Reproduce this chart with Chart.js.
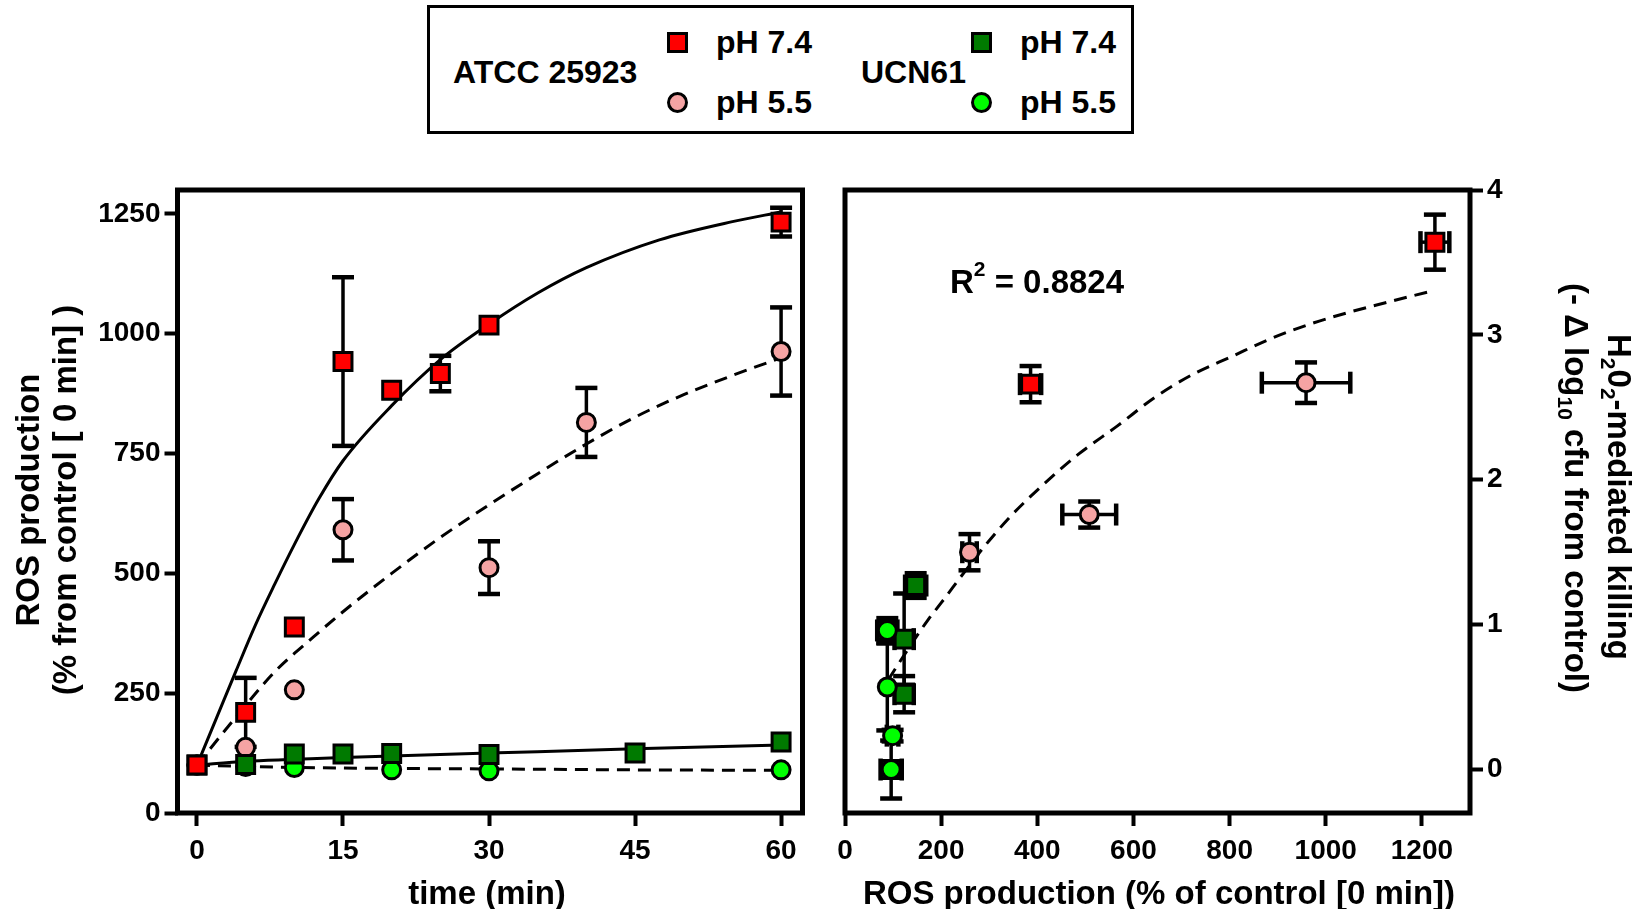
<!DOCTYPE html>
<html>
<head>
<meta charset="utf-8">
<script src="https://cdn.jsdelivr.net/npm/chart.js@4.4.1/dist/chart.umd.min.js"></script>
<style>
html,body{margin:0;padding:0;background:#fff;}
body{width:1652px;height:909px;overflow:hidden;position:relative;font-family:"Liberation Sans",Arial,Helvetica,sans-serif;font-weight:bold;}
#c1{position:absolute;left:0;top:0;}
#c2{position:absolute;left:826px;top:0;}
#legend{position:absolute;left:427px;top:5px;width:707px;height:129px;box-sizing:border-box;border:3px solid #000;}
.lt{position:absolute;font-size:32px;line-height:32px;white-space:nowrap;color:#000;}
.mk{position:absolute;width:21px;height:21px;box-sizing:border-box;border:3px solid #000;}
.ci{border-radius:50%;}
</style>
</head>
<body>
<div id="legend"></div>
<span class="lt" style="left:453px;top:56px">ATCC 25923</span>
<div class="mk" style="left:667px;top:32px;background:#ff0000"></div>
<span class="lt" style="left:716px;top:26px">pH 7.4</span>
<div class="mk ci" style="left:667px;top:92px;background:#f5a3a3"></div>
<span class="lt" style="left:716px;top:86px">pH 5.5</span>
<span class="lt" style="left:861px;top:56px">UCN61</span>
<div class="mk" style="left:971px;top:32px;background:#007a00"></div>
<span class="lt" style="left:1020px;top:26px">pH 7.4</span>
<div class="mk ci" style="left:971px;top:92px;background:#00ff00"></div>
<span class="lt" style="left:1020px;top:86px">pH 5.5</span>

<canvas id="c1" width="826" height="909"></canvas>
<canvas id="c2" width="826" height="909"></canvas>

<script>
// ---- left panel: ROS production vs time ----
const timeTicks = [0, 15, 30, 45, 60];
const rosTicks = [0, 250, 500, 750, 1000, 1250];

const atccNeutralTime = [0, 5, 10, 15, 20, 25, 30, 60];
const atccNeutralRos  = [100, 210, 388, 942, 882, 917, 1018, 1233];
const atccNeutralErr  = [0, 72, 0, 176, 0, 37, 0, 30];

const atccAcidTime = [0, 5, 10, 15, 30, 40, 60];
const atccAcidRos  = [100, 137, 257, 591, 512, 815, 963];
const atccAcidErr  = [0, 0, 0, 64, 55, 72, 92];

const ucnNeutralTime = [0, 5, 10, 15, 20, 30, 45, 60];
const ucnNeutralRos  = [100, 101, 123, 123, 124, 122, 125, 148];

const ucnAcidTime = [0, 5, 10, 20, 30, 60];
const ucnAcidRos  = [100, 97, 95, 90, 88, 90];

// fitted curves, points
const fitAtccNeutralT = [0, 2, 4, 6, 8, 10, 12.5, 15, 20, 25, 30, 35, 40, 47.5, 55, 60];
const fitAtccNeutralY = [100, 198, 296, 392, 478, 560, 655, 735, 850, 946, 1020, 1085, 1138, 1196, 1234, 1254];
const fitAtccAcidT = [0, 4, 8, 12, 15, 20, 25, 30, 35, 40, 45, 50, 55, 60];
const fitAtccAcidY = [100, 200, 295, 368, 420, 500, 575, 643, 708, 770, 826, 873, 913, 950];
const fitUcnNeutralT = [0, 5, 10, 15, 20, 30, 45, 60];
const fitUcnNeutralY = [100, 108, 112, 116, 119, 125, 134, 142];
const fitUcnAcidT = [0, 5, 10, 20, 30, 45, 60];
const fitUcnAcidY = [100, 97, 95, 93, 92, 90, 89];

// ---- right panel: killing vs ROS production ----
const rosAxisTicks = [0, 200, 400, 600, 800, 1000, 1200];
const killTicks = [0, 1, 2, 3, 4];

const killAtccNeutralRos = [386, 1227];
const killAtccNeutralY   = [2.66, 3.64];
const killAtccNeutralXErr = [22, 30];
const killAtccNeutralYErr = [0.125, 0.19];

const killAtccAcidRos = [259, 508, 959];
const killAtccAcidY   = [1.50, 1.76, 2.67];
const killAtccAcidXErr = [15, 56, 92];
const killAtccAcidYErr = [0.125, 0.09, 0.14];

const killUcnNeutralRos = [96, 88, 123, 123, 147];
const killUcnNeutralY   = [0, 0.96, 0.52, 0.90, 1.27];
const killUcnNeutralXErr = [0, 0, 20, 20, 22];
const killUcnNeutralYErr = [0, 0, 0.125, 0.315, 0.085];

const killUcnAcidRos = [96, 99, 88, 88];
const killUcnAcidY   = [0, 0.234, 0.57, 0.96];
const killUcnAcidXErr = [22, 12, 0, 21];
const killUcnAcidYErr = [0.2, 0.04, 0.3, 0.085];

const fitKillRos = [90, 131, 172, 200, 250, 290, 345, 407, 487, 566, 645, 725, 804, 883, 963, 1042, 1122, 1217];
const fitKillY   = [0.62, 0.83, 1.03, 1.15, 1.37, 1.54, 1.75, 1.95, 2.18, 2.37, 2.57, 2.73, 2.85, 2.97, 3.07, 3.15, 3.22, 3.30];

const RED = '#ff0000', PINK = '#f5a3a3', DKGREEN = '#007a00', LTGREEN = '#00ff00';
const FONT = '"Liberation Sans", Arial, Helvetica, sans-serif';
const C2 = 826;   // left edge of the second canvas

function pts(xs, ys) {
  return xs.map((x, i) => ({x: x, y: ys[i]}));
}

function markers(data, style, fill, xErr, yErr) {
  return {
    data: data, showLine: false,
    pointStyle: style, pointRadius: style === 'rect' ? 12.7 : 9,
    pointHoverRadius: style === 'rect' ? 12.7 : 9,
    pointBackgroundColor: fill, pointBorderColor: '#000', pointBorderWidth: 3,
    xErr: xErr, yErr: yErr
  };
}

function curve(data, dashed) {
  return {
    data: data, showLine: true, pointRadius: 0, pointHoverRadius: 0,
    borderColor: '#000', borderWidth: 3, borderDash: dashed ? [13, 8] : [],
    cubicInterpolationMode: 'monotone', fill: false
  };
}

function axis(min, max, values, fitFn, pad, extra) {
  return Object.assign({
    type: 'linear', min: min, max: max,
    afterBuildTicks: s => { s.ticks = values.map(v => ({value: v})); },
    afterFit: fitFn,
    grid: {display: true, drawOnChartArea: false, drawTicks: true, tickLength: 13, tickWidth: 4, tickColor: '#000'},
    border: {display: false},
    ticks: {color: '#000', font: {family: FONT, size: 28, weight: 'bold'}, padding: pad,
            maxRotation: 0, autoSkip: false, callback: v => String(v)}
  }, extra || {});
}

// error bars go under the markers
const errorBars = {
  id: 'errorBars',
  beforeDatasetsDraw(chart) {
    const ctx = chart.ctx, xs = chart.scales.x, ys = chart.scales.y;
    const seg = (x1, y1, x2, y2, w) => {
      ctx.lineWidth = w;
      ctx.beginPath(); ctx.moveTo(x1, y1); ctx.lineTo(x2, y2); ctx.stroke();
    };
    ctx.save();
    ctx.strokeStyle = '#000';
    chart.data.datasets.forEach(ds => {
      ds.data.forEach((p, i) => {
        const px = xs.getPixelForValue(p.x), py = ys.getPixelForValue(p.y);
        const ey = ds.yErr ? ds.yErr[i] : 0;
        const ex = ds.xErr ? ds.xErr[i] : 0;
        if (ey) {
          const y1 = ys.getPixelForValue(p.y + ey), y2 = ys.getPixelForValue(p.y - ey);
          seg(px, y1, px, y2, 3.5);
          seg(px - 11, y1, px + 11, y1, 4.5);
          seg(px - 11, y2, px + 11, y2, 4.5);
        }
        if (ex) {
          const x1 = xs.getPixelForValue(p.x - ex), x2 = xs.getPixelForValue(p.x + ex);
          seg(x1, py, x2, py, 3.5);
          seg(x1, py - 11, x1, py + 11, 4.5);
          seg(x2, py - 11, x2, py + 11, 4.5);
        }
      });
    });
    ctx.restore();
  }
};

const frame = {
  id: 'frame',
  afterDraw(chart) {
    const a = chart.chartArea, ctx = chart.ctx;
    ctx.save();
    ctx.strokeStyle = '#000';
    ctx.lineWidth = 5;
    ctx.lineJoin = 'miter';
    ctx.strokeRect(a.left, a.top, a.right - a.left, a.bottom - a.top);
    ctx.restore();
  }
};

// text with sub/superscripts; x,y is the middle of the capitals
function drawRich(ctx, item) {
  const size = item.size;
  ctx.save();
  ctx.translate(item.x, item.y);
  ctx.rotate(item.angle || 0);
  ctx.fillStyle = '#000';
  ctx.textBaseline = 'alphabetic';
  ctx.textAlign = 'left';
  const parts = item.parts.map(p => {
    const o = typeof p === 'string' ? {t: p} : {t: p.sub || p.sup, sub: !!p.sub, sup: !!p.sup};
    o.s = (o.sub || o.sup) ? Math.round(size * 0.63) : size;
    ctx.font = 'bold ' + o.s + 'px ' + FONT;
    o.w = ctx.measureText(o.t).width;
    o.dy = o.sub ? size * 0.22 : (o.sup ? -size * 0.5 : 0);
    return o;
  });
  const total = parts.reduce((a, p) => a + p.w, 0);
  let x = item.align === 'left' ? 0 : -total / 2;
  const base = size * 0.36;
  parts.forEach(p => {
    ctx.font = 'bold ' + p.s + 'px ' + FONT;
    ctx.fillText(p.t, x, base + p.dy);
    x += p.w;
  });
  ctx.restore();
}

const richText = {
  id: 'richText',
  afterDraw(chart, args, opts) {
    (opts.items || []).forEach(it => drawRich(chart.ctx, it));
  }
};

function baseOptions(padding, xScale, yScale, items) {
  return {
    responsive: false, animation: false, devicePixelRatio: 1,
    layout: {padding: padding, autoPadding: false},
    scales: {x: xScale, y: yScale},
    plugins: {legend: {display: false}, tooltip: {enabled: false}, richText: {items: items}}
  };
}

new Chart(document.getElementById('c1'), {
  type: 'scatter',
  data: {
    datasets: [
      markers(pts(atccNeutralTime, atccNeutralRos), 'rect', RED, null, atccNeutralErr),
      markers(pts(ucnNeutralTime, ucnNeutralRos), 'rect', DKGREEN, null, null),
      markers(pts(atccAcidTime, atccAcidRos), 'circle', PINK, null, atccAcidErr),
      markers(pts(ucnAcidTime, ucnAcidRos), 'circle', LTGREEN, null, null),
      curve(pts(fitAtccNeutralT, fitAtccNeutralY), false),
      curve(pts(fitAtccAcidT, fitAtccAcidY), true),
      curve(pts(fitUcnNeutralT, fitUcnNeutralY), false),
      curve(pts(fitUcnAcidT, fitUcnAcidY), true)
    ]
  },
  options: baseOptions(
    {left: 0, right: 826 - 802.5, top: 190, bottom: 0},
    axis(-2, 62.2, timeTicks, s => { s.height = 96; }, 8),
    axis(0, 1300, rosTicks, s => { s.width = 177.5; }, 4),
    [
      {parts: ['ROS production'], x: 27, y: 500, size: 33, angle: -Math.PI / 2},
      {parts: ['(% from control [ 0 min] )'], x: 64, y: 500, size: 33, angle: -Math.PI / 2},
      {parts: ['time (min)'], x: 487, y: 892, size: 33}
    ]
  ),
  plugins: [errorBars, frame, richText]
});

new Chart(document.getElementById('c2'), {
  type: 'scatter',
  data: {
    datasets: [
      markers(pts(killUcnAcidRos, killUcnAcidY), 'circle', LTGREEN, killUcnAcidXErr, killUcnAcidYErr),
      markers(pts(killUcnNeutralRos, killUcnNeutralY), 'rect', DKGREEN, killUcnNeutralXErr, killUcnNeutralYErr),
      markers(pts(killAtccAcidRos, killAtccAcidY), 'circle', PINK, killAtccAcidXErr, killAtccAcidYErr),
      markers(pts(killAtccNeutralRos, killAtccNeutralY), 'rect', RED, killAtccNeutralXErr, killAtccNeutralYErr),
      curve(pts(fitKillRos, fitKillY), true)
    ]
  },
  options: baseOptions(
    {left: 845 - C2, right: 0, top: 190, bottom: 0},
    axis(0, 1300, rosAxisTicks, s => { s.height = 96; }, 8),
    axis(-0.3, 4, killTicks, s => { s.width = C2 + 826 - 1470; }, 4, {position: 'right'}),
    [
      {parts: ['ROS production (% of control [0 min])'], x: 1159 - C2, y: 892, size: 33},
      {parts: ['H', {sub: '2'}, '0', {sub: '2'}, '-mediated killing'], x: 1620 - C2, y: 497, size: 33, angle: Math.PI / 2},
      {parts: ['(- \u0394 log', {sub: '10'}, ' cfu from control)'], x: 1577 - C2, y: 488, size: 33, angle: Math.PI / 2},
      {parts: ['R', {sup: '2'}, ' = 0.8824'], x: 950 - C2, y: 281, size: 33, align: 'left'}
    ]
  ),
  plugins: [errorBars, frame, richText]
});
</script>
</body>
</html>
